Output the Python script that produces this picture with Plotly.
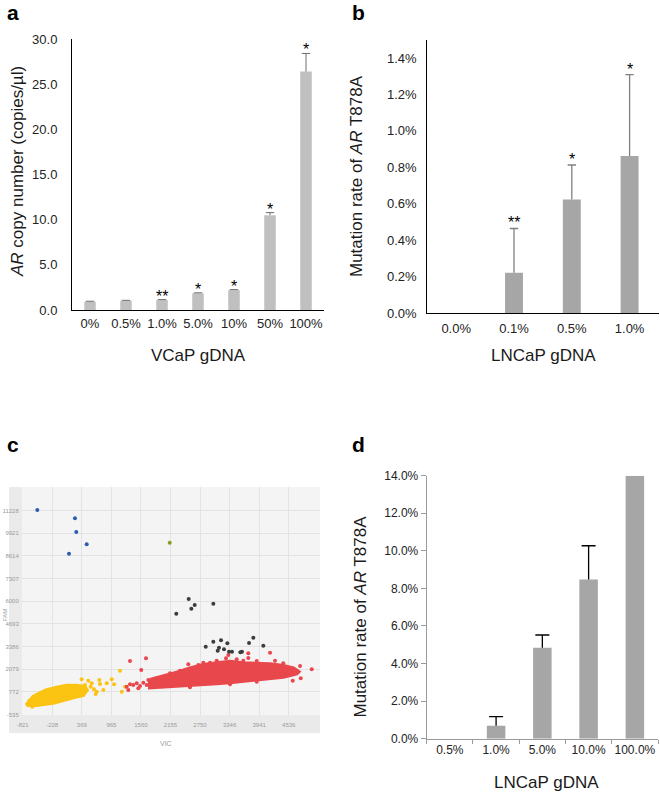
import plotly.graph_objects as go

FONT = "Liberation Sans, Arial, Helvetica, sans-serif"
W, H = 660, 798

# ---------------- data ----------------
# panel a
a_cats = ["0%", "0.5%", "1.0%", "5.0%", "10%", "50%", "100%"]
a_vals = [0.92, 1.03, 1.1, 1.85, 2.2, 10.5, 26.4]
a_err = [0.05, 0.04, 0.05, 0.05, 0.06, 0.28, 2.0]
a_sig = ["", "", "**", "*", "*", "*", "*"]
a_yticks = [0, 5, 10, 15, 20, 25, 30]

# panel b
b_cats = ["0.0%", "0.1%", "0.5%", "1.0%"]
b_vals = [0.0, 0.222, 0.624, 0.862]
b_err = [None, 0.243, 0.189, 0.447]
b_sig = ["", "**", "*", "*"]
b_yticks = [0.0, 0.2, 0.4, 0.6, 0.8, 1.0, 1.2, 1.4]

# panel d
d_cats = ["0.5%", "1.0%", "5.0%", "10.0%", "100.0%"]
d_vals = [0.0, 0.69, 4.84, 8.48, 14.0]
d_err = [None, 0.48, 0.68, 1.79, None]
d_yticks = [0, 2, 4, 6, 8, 10, 12, 14]

# panel c (ddPCR 2-D amplitude plot: VIC vs FAM)
c_xticks = [-821, -228, 369, 965, 1560, 2155, 2750, 3346, 3941, 4536]
c_yticks = [-535, 772, 2079, 3386, 4693, 6000, 7307, 8614, 9921, 11228]

blue_vic = [-527, 232, 258, 468, 111]
blue_fam = [11268, 10789, 9998, 9288, 8746]

green_vic = [2140]
green_fam = [9381]

dark_vic = [2272, 2522, 2575, 2643, 3018, 2865, 3018, 3173, 3300, 3132, 3106,
            3233, 3334, 3394, 3562, 3595, 3737, 3823, 4025]
dark_fam = [5282, 6130, 5570, 5784, 5859, 3377, 3665, 3746, 3573, 3319, 3146,
            3227, 3088, 3088, 3053, 3088, 3590, 3896, 3434]

# outline of the dense yellow (VIC+) cloud
yel_cloud_vic = [-740, -608, -473, -338, -136, 65, 267, 399, 468, 399, 198, -3,
                 -205, -406, -539, -674, -740]
yel_cloud_fam = [11, 490, 687, 877, 1010, 1125, 1125, 1068, 877, 588, 455, 300,
                 144, 69, 11, 11, 11]
yel_vic = [-728, -628, -688, 367, 500, 434, 569, 615, 669, 736, 722, 802, 871,
           971, 1018, 1139, 1173, 1239, 548, 649, 448, 399]
yel_fam = [51, -87, 259, 1495, 1414, 1166, 1264, 917, 779, 1223, 1454, 877,
           1264, 1495, 1206, 1991, 779, 1068, 1068, 645, 975, 877]

# outline of the dense red (FAM+VIC+) cloud
red_cloud_vic = [1743, 2011, 2281, 2548, 2816, 3086, 3354, 3622, 3892, 4160,
                 4427, 4629, 4730, 4697, 4427, 4160, 3892, 3622, 3354, 3086,
                 2816, 2548, 2281, 2011, 1743, 1743]
red_cloud_fam = [1454, 1645, 1876, 2130, 2320, 2418, 2511, 2418, 2418, 2361,
                 2263, 2130, 1934, 1841, 1645, 1553, 1495, 1414, 1321, 1264,
                 1206, 1166, 1108, 1068, 1033, 1454]
red_vic = [1273, 1340, 1406, 1475, 1541, 1608, 1676, 1777, 1843, 1930, 2011,
           2079, 1306, 1507, 1709, 1340, 1662, 1567, 2514, 2716, 2951, 3320,
           3489, 3722, 4160, 4260, 4764, 4999, 4778, 4617, 2347, 2146, 1878,
           3273, 3722, 2816, 3622, 4427, 3086, 3892, 3354, 2548, 3892]
red_fam = [1068, 1206, 1166, 1264, 1108, 1298, 1166, 1356, 1223, 1356, 1454,
           1264, 877, 975, 1454, 2551, 2707, 2032, 2361, 2320, 2453, 2898,
           2649, 3000, 3030, 2569, 2263, 2072, 1553, 1414, 1991, 1841, 1553,
           2707, 2730, 2453, 2569, 2418, 2569, 2551, 1206, 1033, 1356]


# ---------------- geometry helpers (pixel -> paper) ----------------
def px(x):
    return x / W


def py(y):
    return 1 - y / H


fig = go.Figure()


def add_errorbars(cats, vals, errs, xa, ya, color, lw, cap):
    """'Plus' error bars only (whisker + cap, no lower shoe)."""
    wx, wy, cx, cy = [], [], [], []
    for c, v, e in zip(cats, vals, errs):
        if e is None:
            continue
        wx += [c, c, None]
        wy += [v, v + e, None]
        cx.append(c)
        cy.append(v + e)
    fig.add_trace(go.Scatter(x=wx, y=wy, xaxis=xa, yaxis=ya, mode="lines",
                             line=dict(color=color, width=lw),
                             showlegend=False, hoverinfo="skip"))
    fig.add_trace(go.Scatter(x=cx, y=cy, xaxis=xa, yaxis=ya, mode="markers",
                             marker=dict(symbol="line-ew", size=cap,
                                         line=dict(color=color, width=lw)),
                             showlegend=False, hoverinfo="skip"))


# ---------------- panel a ----------------
fig.add_trace(go.Bar(
    x=a_cats, y=a_vals, xaxis="x", yaxis="y",
    marker=dict(color="#c0c0c0", line=dict(width=0)),
    width=0.32, showlegend=False, hoverinfo="skip"))
add_errorbars(a_cats, a_vals, a_err, "x", "y", "#6e6e6e", 1, 6)

# ---------------- panel b ----------------
fig.add_trace(go.Bar(
    x=b_cats, y=b_vals, xaxis="x2", yaxis="y2",
    marker=dict(color="#a6a6a6", line=dict(width=0)),
    width=0.31, showlegend=False, hoverinfo="skip"))
add_errorbars(b_cats, b_vals, b_err, "x2", "y2", "#808080", 1.3, 6)

# ---------------- panel d ----------------
fig.add_trace(go.Bar(
    x=d_cats, y=d_vals, xaxis="x4", yaxis="y4",
    marker=dict(color="#a6a6a6", line=dict(width=0)),
    width=0.4, showlegend=False, hoverinfo="skip"))
add_errorbars(d_cats, d_vals, d_err, "x4", "y4", "#000000", 1.3, 10)

# ---------------- panel c ----------------
YEL = "#fbc312"
RED = "#e8474c"
fig.add_trace(go.Scatter(x=yel_cloud_vic, y=yel_cloud_fam, xaxis="x3", yaxis="y3",
                         mode="lines", fill="toself", fillcolor=YEL,
                         line=dict(color=YEL, width=4), showlegend=False,
                         hoverinfo="skip"))
fig.add_trace(go.Scatter(x=yel_vic, y=yel_fam, xaxis="x3", yaxis="y3",
                         mode="markers", marker=dict(color=YEL, size=4),
                         showlegend=False, hoverinfo="skip"))
fig.add_trace(go.Scatter(x=red_cloud_vic, y=red_cloud_fam, xaxis="x3", yaxis="y3",
                         mode="lines", fill="toself", fillcolor=RED,
                         line=dict(color=RED, width=4), showlegend=False,
                         hoverinfo="skip"))
fig.add_trace(go.Scatter(x=red_vic, y=red_fam, xaxis="x3", yaxis="y3",
                         mode="markers", marker=dict(color=RED, size=4),
                         showlegend=False, hoverinfo="skip"))
fig.add_trace(go.Scatter(x=dark_vic, y=dark_fam, xaxis="x3", yaxis="y3",
                         mode="markers", marker=dict(color="#3c3c3c", size=4),
                         showlegend=False, hoverinfo="skip"))
fig.add_trace(go.Scatter(x=blue_vic, y=blue_fam, xaxis="x3", yaxis="y3",
                         mode="markers", marker=dict(color="#2d5cae", size=4),
                         showlegend=False, hoverinfo="skip"))
fig.add_trace(go.Scatter(x=green_vic, y=green_fam, xaxis="x3", yaxis="y3",
                         mode="markers", marker=dict(color="#8c9b24", size=4),
                         showlegend=False, hoverinfo="skip"))

tickfont = dict(family=FONT, size=13, color="#222222")
tickfont_d = dict(family=FONT, size=12, color="#222222")
cfont = dict(family=FONT, size=6, color="#9a9a9a")
INV = "rgba(0,0,0,0)"

fig.update_layout(
    width=W, height=H,
    margin=dict(l=0, r=0, t=0, b=0, pad=0, autoexpand=False),
    paper_bgcolor="white", plot_bgcolor="rgba(0,0,0,0)",
    font=dict(family=FONT),
    # panel a
    xaxis=dict(domain=[px(72), px(324)], anchor="y", type="category",
               categoryorder="array", categoryarray=a_cats,
               showline=True, linecolor="#000000", linewidth=1,
               ticks="outside", ticklen=1, tickcolor=INV, tickfont=tickfont,
               tickangle=0, showgrid=False, automargin=False),
    yaxis=dict(domain=[py(310), py(39)], anchor="x", range=[0, 30],
               tickvals=a_yticks, ticktext=[f"{v:.1f}" for v in a_yticks],
               showline=True, linecolor="#000000", linewidth=1,
               ticks="outside", ticklen=11, tickcolor=INV, tickfont=tickfont,
               showgrid=False, zeroline=False, automargin=False),
    # panel b
    xaxis2=dict(domain=[px(427.3), px(658.5)], anchor="y2", type="category",
                categoryorder="array", categoryarray=b_cats,
                showline=True, linecolor="#000000", linewidth=1.3,
                ticks="outside", ticklen=3, tickcolor=INV, tickfont=tickfont,
                tickangle=0, showgrid=False, automargin=False),
    yaxis2=dict(domain=[py(313.3), py(39.7)], anchor="x2", range=[0, 1.5],
                tickvals=b_yticks, ticktext=[f"{v:.1f}%" for v in b_yticks],
                showline=True, linecolor="#000000", linewidth=1.3,
                ticks="outside", ticklen=7, tickcolor=INV, tickfont=tickfont,
                showgrid=False, zeroline=False, automargin=False),
    # panel c
    xaxis3=dict(domain=[px(22), px(320)], anchor="y3", range=[-835, 5166],
                tickvals=c_xticks, ticktext=[str(v) for v in c_xticks],
                showgrid=True, gridcolor="#e3e3e3", gridwidth=1,
                zeroline=False, showline=False, tickangle=0,
                ticks="outside", ticklen=4, tickcolor=INV, tickfont=cfont,
                automargin=False),
    yaxis3=dict(domain=[py(715), py(487)], anchor="x3", range=[-564, 12596],
                tickvals=c_yticks, ticktext=[str(v) for v in c_yticks],
                showgrid=True, gridcolor="#e3e3e3", gridwidth=1,
                zeroline=False, showline=False,
                ticks="outside", ticklen=1, tickcolor=INV, tickfont=cfont,
                automargin=False),
    # panel d
    xaxis4=dict(domain=[px(426.7), px(658)], anchor="y4", type="category",
                categoryorder="array", categoryarray=d_cats,
                showline=True, linecolor="#9a9a9a", linewidth=1,
                ticks="outside", ticklen=4, tickcolor="#9a9a9a",
                tickson="boundaries", tickfont=tickfont_d, tickangle=0,
                showgrid=False, automargin=False),
    yaxis4=dict(domain=[py(738.7), py(475.7)], anchor="x4", range=[0, 14],
                tickvals=d_yticks, ticktext=[f"{v:.1f}%" for v in d_yticks],
                showline=True, linecolor="#9a9a9a", linewidth=1,
                ticks="outside", ticklen=5, tickcolor="#9a9a9a",
                tickfont=tickfont_d, showgrid=False, zeroline=False,
                automargin=False),
)

# panel c backgrounds (strips + plot area)
fig.add_shape(type="rect", xref="paper", yref="paper", layer="below",
              x0=px(9), x1=px(320), y0=py(733), y1=py(487),
              fillcolor="#eaeaea", line=dict(width=0))
fig.add_shape(type="rect", xref="paper", yref="paper", layer="below",
              x0=px(22), x1=px(320), y0=py(715), y1=py(487),
              fillcolor="#f4f4f4", line=dict(width=0))

# ---------------- annotations ----------------
ann = []


def label(text, x, y, size=21):
    ann.append(dict(text=f"<b>{text}</b>", x=px(x), y=py(y), xref="paper",
                    yref="paper", showarrow=False, xanchor="center",
                    yanchor="middle", font=dict(family=FONT, size=size,
                                                color="#000000")))


label("a", 13, 12)
label("b", 358, 12)
label("c", 12.5, 444)
label("d", 358, 444)


def title(text, x, y, angle=0, size=17, color="#1a1a1a"):
    ann.append(dict(text=text, x=px(x), y=py(y), xref="paper", yref="paper",
                    showarrow=False, xanchor="center", yanchor="middle",
                    textangle=angle, font=dict(family=FONT, size=size,
                                               color=color)))


title("<i>AR</i> copy number (copies/µl)", 17, 172, angle=-90)
title("VCaP gDNA", 198, 355)
title("Mutation rate of <i>AR</i> T878A", 356, 176, angle=-90)
title("LNCaP gDNA", 543, 355)
title("Mutation rate of <i>AR</i> T878A", 359.5, 617, angle=-90)
title("LNCaP gDNA", 546, 782)
title("FAM", 5, 615, angle=-90, size=6, color="#9a9a9a")
title("VIC", 166, 743, size=7, color="#9a9a9a")

for c, v, e, s in zip(a_cats, a_vals, a_err, a_sig):
    if s:
        ann.append(dict(text=s, x=c, y=v + e, xref="x", yref="y",
                        showarrow=False, yanchor="bottom", yshift=-7,
                        font=dict(family=FONT, size=16, color="#000000")))
for c, v, e, s in zip(b_cats, b_vals, b_err, b_sig):
    if s:
        ann.append(dict(text=s, x=c, y=v + (e or 0), xref="x2", yref="y2",
                        showarrow=False, yanchor="bottom", yshift=-5,
                        font=dict(family=FONT, size=16, color="#000000")))

fig.update_layout(annotations=ann)
fig.write_html("out.html",
               config={"displayModeBar": False},
               post_script="document.body.style.margin='0px';"
                           "document.body.style.overflow='hidden';")
